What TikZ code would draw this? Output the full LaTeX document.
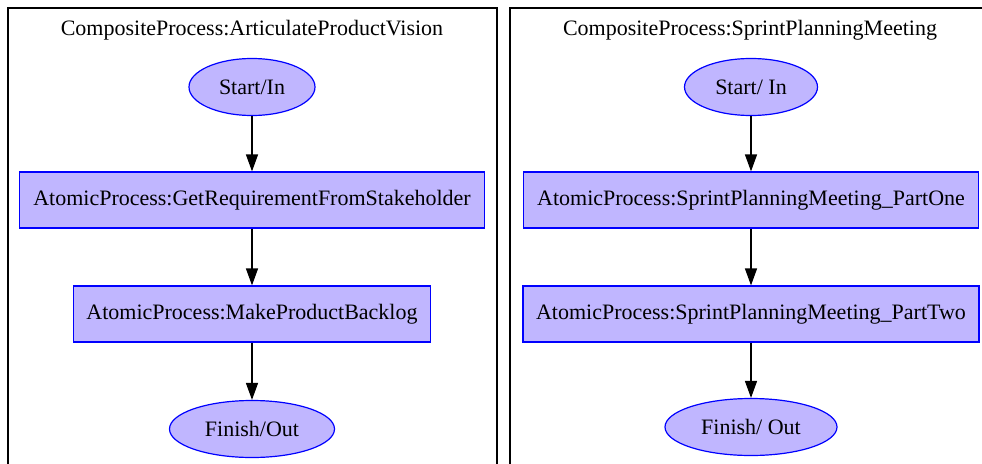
\documentclass[tikz,border=0pt]{standalone}
\usepackage{fontspec}
\setmainfont{Liberation Serif}
\usetikzlibrary{arrows.meta,shapes.geometric}
\definecolor{nodefill}{RGB}{192,182,255}
\begin{document}
\begin{tikzpicture}[x=1pt,y=-1pt,
  every node/.style={font=\fontsize{22}{26}\selectfont},
  cluster/.style={draw=black,line width=1.4pt},
  title/.style={inner sep=0pt},
  endpt/.style={ellipse,draw=blue,fill=nodefill,line width=1.2pt,inner sep=0pt,minimum height=57pt},
  procbox/.style={rectangle,draw=blue,fill=nodefill,line width=1.2pt,inner sep=0pt,minimum height=56pt},
  flow/.style={-{Triangle[length=17pt,width=12pt]},line width=1.4pt,draw=black}]
\useasboundingbox (0,0) rectangle (982,463);
\clip (0,0) rectangle (982,463);
\fill[white] (0,0) rectangle (982,463);
% clusters
\draw[cluster] (8,8) rectangle (497,480);
\draw[cluster] (510,8) rectangle (995,480);
\node[title] (t1) at (252,30) {CompositeProcess:ArticulateProductVision};
\node[title] (t2) at (750,30) {CompositeProcess:SprintPlanningMeeting};
% left
\node[endpt,minimum width=126pt] (s1) at (252,87) {Start/In};
\node[procbox,minimum width=465pt] (r1) at (252,200) {AtomicProcess:GetRequirementFromStakeholder};
\node[procbox,minimum width=357pt] (r2) at (252,314) {AtomicProcess:MakeProductBacklog};
\node[endpt,minimum width=165pt] (f1) at (252,429) {Finish/Out};
% right
\node[endpt,minimum width=133pt] (s2) at (751,87) {Start/ In};
\node[procbox,minimum width=455pt] (r3) at (751,200) {AtomicProcess:SprintPlanningMeeting\_PartOne};
\node[procbox,minimum width=456pt] (r4) at (751,314) {AtomicProcess:SprintPlanningMeeting\_PartTwo};
\node[endpt,minimum width=172pt] (f2) at (751,427) {Finish/ Out};
% edges
\draw[flow] (s1) -- (r1);
\draw[flow] (r1) -- (r2);
\draw[flow] (r2) -- (f1);
\draw[flow] (s2) -- (r3);
\draw[flow] (r3) -- (r4);
\draw[flow] (r4) -- (f2);
\end{tikzpicture}
\end{document}
